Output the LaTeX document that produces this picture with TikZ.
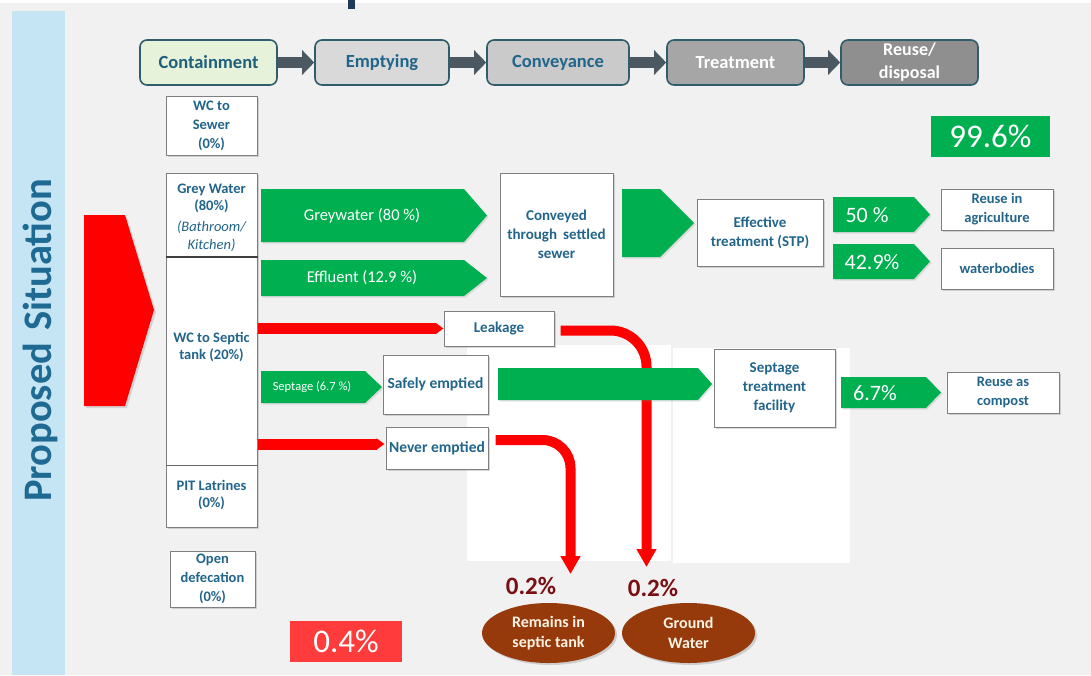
\documentclass[tikz,border=0pt]{standalone}
\usepackage{fontspec}
\setmainfont{Carlito}
\usetikzlibrary{arrows.meta,shadows,calc,shapes.geometric}
\definecolor{bg}{HTML}{F1F1F1}
\definecolor{band}{HTML}{C5E5F5}
\definecolor{tealtxt}{HTML}{22658A}
\definecolor{sitxt}{HTML}{1F6A93}
\definecolor{gr}{HTML}{00B050}
\definecolor{rd}{HTML}{FF0000}
\definecolor{rdbox}{HTML}{FF3B3B}
\definecolor{brownell}{HTML}{963A0C}
\definecolor{dred}{HTML}{7A0F12}
\definecolor{cream}{HTML}{FFF3E3}
\definecolor{topedge}{HTML}{2F5D6B}
\definecolor{arrowgray}{HTML}{4B5861}
\definecolor{boxedge}{HTML}{7F7F7F}
\definecolor{navy}{HTML}{1F3B5A}
\tikzset{
  topbox/.style={draw=topedge, line width=1.6pt, rounded corners=7pt, minimum height=45pt, font=\fontsize{18.5}{22}\selectfont\bfseries, align=center, inner sep=0pt},
  wbox/.style={draw=boxedge, line width=1pt, fill=white, drop shadow={shadow xshift=2pt, shadow yshift=-2pt, opacity=0.3}, text=tealtxt, font=\fontsize{15}{19}\selectfont\bfseries, align=center, inner sep=0pt},
  gtext/.style={text=white, font=\fontsize{16.5}{20}\selectfont},
  flowarrow/.style={draw=arrowgray, line width=11pt, -{Triangle[width=24pt,length=12pt]}},
  redbar/.style={draw=rd, line width=11pt, -{Triangle[width=11pt,length=8pt]}},
  redflow/.style={draw=rd, line width=10pt, -{Triangle[width=19pt,length=18pt]}},
  gshape/.style={fill=gr, drop shadow={shadow xshift=1.5pt, shadow yshift=-1.5pt, opacity=0.2}},
  pct/.style={text=white, font=\fontsize{33}{36}\selectfont, inner sep=0pt},
  ell/.style={ellipse, fill=brownell, text=cream, font=\fontsize{16}{20}\selectfont\bfseries, align=center, inner sep=0pt, drop shadow={shadow xshift=2pt, shadow yshift=-2pt, opacity=0.3}},
}
\newcommand\garrow[5]{\path[gshape] (#1,#2) -- (#3,#2) -- (#4,{(#2+#5)/2}) -- (#3,#5) -- (#1,#5) -- cycle;}
\begin{document}
\begin{tikzpicture}[x=1pt,y=-1pt]
\useasboundingbox (0,0) rectangle (1091,675);
% background
\fill[bg] (0,0) rectangle (1091,675);
\fill[white] (0,0) rectangle (1091,3);
\fill[navy] (348,0) rectangle (355,9);
\fill[band] (12,11) rectangle (65,675);
\node[rotate=90, text=sitxt, font=\fontsize{40.5}{44}\selectfont\bfseries] (title) at (40,340.5) {Proposed\hspace{12pt}Situation};
% white panels
\fill[white] (467,345) rectangle (671,561);
\fill[white] (673,348) rectangle (850,563);
% big red arrow
\path[fill=rd, drop shadow={shadow xshift=2pt, shadow yshift=-2pt, opacity=0.25}] (84,215) -- (125,215) -- (154,310) -- (125,406) -- (84,406) -- cycle;
% top process boxes
\node[topbox, fill={rgb,255:red,230;green,243;blue,218}, text={rgb,255:red,31;green,95;blue,122}, minimum width=137pt] (cont) at (208.5,62.5) {Containment};
\node[topbox, fill={rgb,255:red,217;green,217;blue,217}, text=tealtxt, minimum width=134pt] (empt) at (382,62.5) {Emptying};
\node[topbox, fill={rgb,255:red,202;green,202;blue,202}, text=tealtxt, minimum width=142pt] (conv) at (558,62.5) {Conveyance};
\node[topbox, fill={rgb,255:red,166;green,166;blue,166}, text=white, minimum width=137pt] (treat) at (735.5,62.5) {Treatment};
\node[topbox, fill={rgb,255:red,143;green,143;blue,143}, text=white, minimum width=137pt, font=\fontsize{18}{23}\selectfont\bfseries] (reuse) at (909.5,62.5) {Reuse/\\disposal};
\draw[flowarrow] (cont.east) -- (empt.west);
\draw[flowarrow] (empt.east) -- (conv.west);
\draw[flowarrow] (conv.east) -- (treat.west);
\draw[flowarrow] (treat.east) -- (reuse.west);
% left column
\node[wbox, font=\fontsize{14.5}{19}\selectfont\bfseries, minimum width=91pt, minimum height=59pt] (sewer) at (211.5,125.5) {WC to\\Sewer\\(0\%)};
\node[wbox, minimum width=91pt, minimum height=354pt] (col) at (211.5,350) {};
\draw[black!75, line width=1.5pt] (col.west|-0,257) -- (col.east|-0,257);
\draw[black!60, line width=0.8pt] (col.west|-0,465) -- (col.east|-0,465);
\node[text=tealtxt, font=\fontsize{14.5}{17}\selectfont\bfseries, align=center] (grey) at (211.5,198.5) {Grey Water\\(80\%)};
\node[text=tealtxt, font=\fontsize{14.5}{18}\selectfont\itshape, align=center] (bath) at (211.5,236) {(Bathroom/\\Kitchen)};
\node[text=tealtxt, font=\fontsize{14.5}{17}\selectfont\bfseries, align=center] (septic) at (211.5,347) {WC to Septic\\tank (20\%)};
\node[text=tealtxt, font=\fontsize{14.5}{17}\selectfont\bfseries, align=center] (pit) at (211.5,495) {PIT Latrines\\(0\%)};
\node[wbox, font=\fontsize{14.5}{19}\selectfont\bfseries, minimum width=85pt, minimum height=56pt] (open) at (212.5,579) {Open\\defecation\\(0\%)};
% boxes
\node[wbox, minimum width=113pt, minimum height=123pt] (sewerbox) at (556.5,234.5) {Conveyed\\through\hspace{6pt}settled\\sewer};
\node[wbox, minimum width=126pt, minimum height=67pt] (eff) at (760,232.5) {Effective\\treatment (STP)};
\node[wbox, font=\fontsize{14.5}{19}\selectfont\bfseries, minimum width=112pt, minimum height=41pt] (agri) at (997,209.5) {Reuse in\\agriculture};
\node[wbox, font=\fontsize{14.5}{19}\selectfont\bfseries, minimum width=112pt, minimum height=41pt] (water) at (997,268.5) {waterbodies};
\node[wbox, minimum width=110pt, minimum height=35pt] (leak) at (499,328.5) {Leakage};
\node[wbox, font=\fontsize{15.5}{19}\selectfont\bfseries, minimum width=105pt, minimum height=59pt] (safe) at (435.5,384.5) {Safely emptied};
\node[wbox, font=\fontsize{15.5}{19}\selectfont\bfseries, minimum width=102pt, minimum height=42pt] (never) at (437,448) {Never emptied};
\node[wbox, minimum width=121pt, minimum height=78pt] (stf) at (774.5,388) {Septage\\treatment\\facility};
\node[wbox, font=\fontsize{14.5}{19}\selectfont\bfseries, minimum width=112pt, minimum height=41pt] (compost) at (1003,392.5) {Reuse as\\compost};
% green arrows
\garrow{261}{189}{464}{487}{242}
\node[gtext] (gwlab) at (362,216) {Greywater (80 \%)};
\garrow{261}{260}{464}{487}{296}
\node[gtext] (efflab) at (362,278) {Effluent (12.9 \%)};
\garrow{622}{189}{660}{694}{257}
\garrow{833}{197}{914}{930}{232}
\node[gtext, font=\fontsize{22}{24}\selectfont] (p50) at (867,215) {50 \%};
\garrow{833}{244}{914}{930}{279}
\node[gtext, font=\fontsize{22}{24}\selectfont] (p429) at (872,262) {42.9\%};
\garrow{261}{371}{365}{382}{403}
\node[gtext, font=\fontsize{12.5}{14}\selectfont] (seplab) at (312,387) {Septage (6.7 \%)};
\garrow{841}{377}{926}{941}{408}
\node[gtext, font=\fontsize{22}{24}\selectfont] (p67) at (875,393) {6.7\%};
% red flows
\coordinate (gwin) at (646.5,567);
\coordinate (stin) at (570.5,574);
\draw[redbar] (col.east|-leak) -- (leak.west);
\draw[redbar] ($(col.east|-never.west)+(0,-4)$) -- ($(never.west)+(-1,-4)$);
\draw[redflow, rounded corners=36pt] ($(leak.east)+(6,2)$) -| (gwin);
\draw[redflow, rounded corners=28pt] ($(never.east)+(7,-8)$) -| (stin);
% long green arrow on top
\garrow{498}{368}{698}{712}{400}
% percentages
\node[fill=gr, pct, minimum width=119pt, minimum height=41pt] (tot) at (990.5,136.5) {99.6\%};
\node[fill=rdbox, pct, minimum width=112pt, minimum height=41pt] (loss) at (346,641.5) {0.4\%};
\node[text=dred, font=\fontsize{25}{28}\selectfont\bfseries] (pl) at (531,586) {0.2\%};
\node[text=dred, font=\fontsize{25}{28}\selectfont\bfseries] (pr) at (653,587.5) {0.2\%};
\node[ell, minimum width=133pt, minimum height=60pt] (stank) at (548.5,633) {Remains in\\septic tank};
\node[ell, minimum width=133pt, minimum height=60pt] (gw) at (688.5,633) {Ground\\Water};
\end{tikzpicture}
\end{document}
